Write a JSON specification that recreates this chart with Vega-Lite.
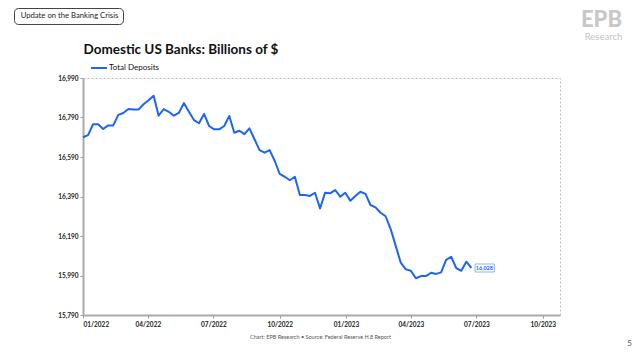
{
  "$schema": "https://vega.github.io/schema/vega-lite/v6.json",
  "width": 477,
  "height": 237,
  "autosize": "none",
  "padding": {"left": 83, "top": 78, "right": 80, "bottom": 45},
  "background": "white",
  "config": {
    "font": "Lato",
    "view": {"fill": "#f8f8f8", "stroke": null}
  },
  "title": {
    "text": "5",
    "orient": "bottom",
    "anchor": "end",
    "frame": "group",
    "fontSize": 8,
    "fontWeight": "normal",
    "color": "#555555",
    "dx": 72,
    "offset": 0
  },
  "datasets": {
    "deposits": [
      {"date": "2022-01-01", "value": 16690},
      {"date": "2022-01-08", "value": 16701},
      {"date": "2022-01-15", "value": 16756},
      {"date": "2022-01-22", "value": 16756},
      {"date": "2022-01-29", "value": 16732},
      {"date": "2022-02-05", "value": 16750},
      {"date": "2022-02-12", "value": 16750},
      {"date": "2022-02-19", "value": 16803},
      {"date": "2022-02-26", "value": 16813},
      {"date": "2022-03-05", "value": 16833},
      {"date": "2022-03-12", "value": 16831},
      {"date": "2022-03-19", "value": 16830},
      {"date": "2022-03-26", "value": 16857},
      {"date": "2022-04-02", "value": 16877},
      {"date": "2022-04-09", "value": 16900},
      {"date": "2022-04-16", "value": 16799},
      {"date": "2022-04-23", "value": 16833},
      {"date": "2022-04-30", "value": 16819},
      {"date": "2022-05-07", "value": 16799},
      {"date": "2022-05-14", "value": 16813},
      {"date": "2022-05-21", "value": 16863},
      {"date": "2022-05-28", "value": 16819},
      {"date": "2022-06-04", "value": 16777},
      {"date": "2022-06-11", "value": 16761},
      {"date": "2022-06-18", "value": 16808},
      {"date": "2022-06-25", "value": 16747},
      {"date": "2022-07-02", "value": 16730},
      {"date": "2022-07-09", "value": 16730},
      {"date": "2022-07-16", "value": 16747},
      {"date": "2022-07-23", "value": 16798},
      {"date": "2022-07-30", "value": 16713},
      {"date": "2022-08-06", "value": 16723},
      {"date": "2022-08-13", "value": 16706},
      {"date": "2022-08-20", "value": 16735},
      {"date": "2022-08-27", "value": 16680},
      {"date": "2022-09-03", "value": 16625},
      {"date": "2022-09-10", "value": 16612},
      {"date": "2022-09-17", "value": 16625},
      {"date": "2022-09-24", "value": 16571},
      {"date": "2022-10-01", "value": 16504},
      {"date": "2022-10-08", "value": 16490},
      {"date": "2022-10-15", "value": 16472},
      {"date": "2022-10-22", "value": 16490},
      {"date": "2022-10-29", "value": 16398},
      {"date": "2022-11-05", "value": 16398},
      {"date": "2022-11-12", "value": 16393},
      {"date": "2022-11-19", "value": 16409},
      {"date": "2022-11-26", "value": 16330},
      {"date": "2022-12-03", "value": 16409},
      {"date": "2022-12-10", "value": 16406},
      {"date": "2022-12-17", "value": 16423},
      {"date": "2022-12-24", "value": 16389},
      {"date": "2022-12-31", "value": 16409},
      {"date": "2023-01-07", "value": 16369},
      {"date": "2023-01-14", "value": 16393},
      {"date": "2023-01-21", "value": 16414},
      {"date": "2023-01-28", "value": 16403},
      {"date": "2023-02-04", "value": 16347},
      {"date": "2023-02-11", "value": 16335},
      {"date": "2023-02-18", "value": 16308},
      {"date": "2023-02-25", "value": 16290},
      {"date": "2023-03-04", "value": 16225},
      {"date": "2023-03-11", "value": 16140},
      {"date": "2023-03-18", "value": 16055},
      {"date": "2023-03-25", "value": 16021},
      {"date": "2023-04-01", "value": 16014},
      {"date": "2023-04-08", "value": 15976},
      {"date": "2023-04-15", "value": 15987},
      {"date": "2023-04-22", "value": 15987},
      {"date": "2023-04-29", "value": 16004},
      {"date": "2023-05-06", "value": 15998},
      {"date": "2023-05-13", "value": 16006},
      {"date": "2023-05-20", "value": 16069},
      {"date": "2023-05-27", "value": 16085},
      {"date": "2023-06-03", "value": 16027},
      {"date": "2023-06-10", "value": 16014},
      {"date": "2023-06-17", "value": 16060},
      {"date": "2023-06-24", "value": 16028}
    ]
  },
  "resolve": {"axis": {"x": "independent", "y": "independent"}},
  "layer": [
    {
      "data": {"name": "deposits"},
      "mark": {"type": "line", "strokeWidth": 2, "strokeJoin": "round"},
      "encoding": {
        "x": {
          "field": "date",
          "type": "temporal",
          "scale": {
            "type": "utc",
            "domain": [
              {"year": 2022, "month": 1, "date": 1, "utc": true},
              {"year": 2023, "month": 10, "date": 25, "utc": true}
            ]
          },
          "axis": {
            "orient": "bottom",
            "values": [
              {"year": 2022, "month": 1, "date": 1, "utc": true},
              {"year": 2022, "month": 4, "date": 1, "utc": true},
              {"year": 2022, "month": 7, "date": 1, "utc": true},
              {"year": 2022, "month": 10, "date": 1, "utc": true},
              {"year": 2023, "month": 1, "date": 1, "utc": true},
              {"year": 2023, "month": 4, "date": 1, "utc": true},
              {"year": 2023, "month": 7, "date": 1, "utc": true},
              {"year": 2023, "month": 10, "date": 1, "utc": true}
            ],
            "format": "%m/%Y",
            "grid": false,
            "labelFontSize": 6.5,
            "labelFontWeight": "bold",
            "labelColor": "#222222",
            "labelPadding": 3,
            "tickSize": 3,
            "tickColor": "#999999",
            "domainColor": "#aaaaaa",
            "domainWidth": 2,
            "title": "Chart: EPB Research • Source: Federal Reserve H.8 Report",
            "titleX": 237,
            "titleY": 21,
            "titleAngle": 0,
            "titleAlign": "center",
            "titleBaseline": "middle",
            "titleFontSize": 5.5,
            "titleFontWeight": "normal",
            "titleColor": "#555555"
          }
        },
        "y": {
          "field": "value",
          "type": "quantitative",
          "scale": {"domain": [15790, 16990], "nice": false, "zero": false},
          "axis": {
            "orient": "left",
            "values": [15790, 15990, 16190, 16390, 16590, 16790, 16990],
            "format": ",.0f",
            "grid": false,
            "labelFontSize": 6.5,
            "labelFontWeight": "bold",
            "labelColor": "#222222",
            "labelPadding": 2,
            "tickSize": 3,
            "tickColor": "#999999",
            "domainColor": "#aaaaaa",
            "domainWidth": 2,
            "title": "Domestic US Banks: Billions of $",
            "titleX": 0,
            "titleY": -25,
            "titleAngle": 0,
            "titleAlign": "left",
            "titleBaseline": "alphabetic",
            "titleFontSize": 13.5,
            "titleFontWeight": "bold",
            "titleColor": "#111111"
          }
        },
        "color": {
          "datum": "Total Deposits",
          "type": "nominal",
          "scale": {"range": ["#1c64f2"]},
          "legend": {
            "orient": "none",
            "legendX": 7,
            "legendY": -19,
            "title": null,
            "padding": 0,
            "symbolType": "stroke",
            "symbolSize": 256,
            "symbolStrokeWidth": 2,
            "labelFontSize": 8,
            "labelColor": "#111111",
            "labelOffset": 1
          }
        }
      }
    },
    {
      "data": {"name": "deposits"},
      "transform": [
        {"window": [{"op": "row_number", "as": "rn"}], "sort": [{"field": "date", "order": "descending"}]},
        {"filter": "datum.rn == 1"}
      ],
      "mark": {
        "type": "point",
        "shape": "M0.15,-0.16H0.92V0.16H0.15Z",
        "size": 2500,
        "filled": true,
        "fill": "white",
        "stroke": "#8fb4f7",
        "strokeWidth": 1,
        "opacity": 1
      },
      "encoding": {
        "x": {
          "field": "date",
          "type": "temporal",
          "axis": {
            "orient": "top",
            "labels": false,
            "ticks": false,
            "grid": false,
            "domainColor": "#bbbbbb",
            "domainDash": [2, 2],
            "domainWidth": 1,
            "title": "Research",
            "titleX": 520,
            "titleY": -47,
            "titleAngle": 0,
            "titleAlign": "center",
            "titleBaseline": "top",
            "titleFontSize": 9.5,
            "titleFontWeight": "normal",
            "titleColor": "#c4c4c4"
          }
        },
        "y": {
          "field": "value",
          "type": "quantitative",
          "axis": {
            "orient": "right",
            "labels": false,
            "ticks": false,
            "grid": false,
            "domainColor": "#bbbbbb",
            "domainDash": [2, 2],
            "domainWidth": 1,
            "title": "EPB",
            "titleX": 41,
            "titleY": -52,
            "titleAngle": 0,
            "titleAlign": "center",
            "titleBaseline": "alphabetic",
            "titleFontSize": 22,
            "titleFontWeight": 900,
            "titleColor": "#c8c8c8"
          }
        }
      }
    },
    {
      "data": {"name": "deposits"},
      "transform": [
        {"window": [{"op": "row_number", "as": "rn"}], "sort": [{"field": "date", "order": "descending"}]},
        {"filter": "datum.rn == 1"}
      ],
      "mark": {
        "type": "text",
        "dx": 13,
        "align": "center",
        "baseline": "middle",
        "fontSize": 5.5,
        "fontWeight": "bold",
        "color": "#1c64f2"
      },
      "encoding": {
        "x": {"field": "date", "type": "temporal", "axis": null},
        "y": {"field": "value", "type": "quantitative", "axis": null},
        "text": {"field": "value", "type": "quantitative", "format": ",.0f"}
      }
    },
    {
      "data": {"name": "deposits"},
      "transform": [
        {"window": [{"op": "row_number", "as": "rn"}], "sort": [{"field": "date", "order": "descending"}]},
        {"filter": "datum.rn == 1"}
      ],
      "mark": {"type": "point", "opacity": 0},
      "encoding": {
        "shape": {
          "datum": "Update on the Banking Crisis",
          "type": "nominal",
          "legend": {
            "orient": "none",
            "legendX": -69,
            "legendY": -70,
            "title": null,
            "padding": 4,
            "strokeColor": "#444444",
            "cornerRadius": 4,
            "fillColor": "white",
            "symbolOpacity": 0,
            "symbolStrokeWidth": 0,
            "symbolSize": 1,
            "labelOffset": -5,
            "labelFontSize": 7.7,
            "labelColor": "#222222"
          }
        }
      }
    }
  ]
}
